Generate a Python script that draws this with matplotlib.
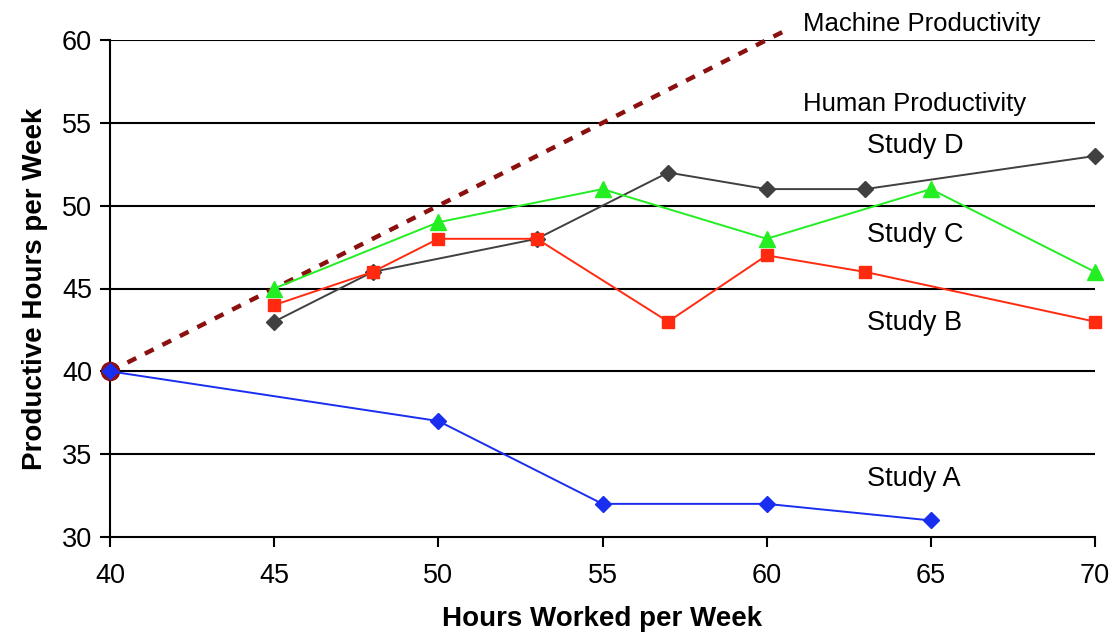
import matplotlib.pyplot as plt
from matplotlib import font_manager

# fonts: narrow face if available
names = {f.name for f in font_manager.fontManager.ttflist}
narrow = "Liberation Sans Narrow" if "Liberation Sans Narrow" in names else "Liberation Sans"
plt.rcParams['font.family'] = [narrow, 'DejaVu Sans']

# data
machine_x = [40, 60.6]
machine_y = [40, 60.6]

study_a_x = [40, 50, 55, 60, 65]
study_a_y = [40, 37, 32, 32, 31]

study_b_x = [45, 48, 50, 53, 57, 60, 63, 70]
study_b_y = [44, 46, 48, 48, 43, 47, 46, 43]

study_c_x = [45, 50, 55, 60, 65, 70]
study_c_y = [45, 49, 51, 48, 51, 46]

study_d_x = [45, 48, 53, 57, 60, 63, 70]
study_d_y = [43, 46, 48, 52, 51, 51, 53]

x_ticks = [40, 45, 50, 55, 60, 65, 70]
y_ticks = [30, 35, 40, 45, 50, 55, 60]

# (text, x, y, size)
labels = [
    ("Machine Productivity", 61.1, 60.95, 18.5),
    ("Human Productivity", 61.1, 56.15, 18.5),
    ("Study D", 63.05, 53.6, 19.5),
    ("Study C", 63.05, 48.2, 19.5),
    ("Study B", 63.05, 42.9, 19.5),
    ("Study A", 63.05, 33.5, 19.5),
]

fig = plt.figure(figsize=(11.12, 6.41), dpi=100)
ax = fig.add_axes([110 / 1112, 1 - 537 / 641, 985 / 1112, 497 / 641])

ax.set_xlim(40, 70)
ax.set_ylim(30, 60)

# horizontal rules
for y in y_ticks[1:]:
    ax.axhline(y, color='black', lw=1.5, zorder=1)

ax.plot(machine_x, machine_y, color='#8b1010', lw=3.2, dashes=(2.2, 2.2),
        clip_on=False, zorder=2)
ax.plot([machine_x[0]], [machine_y[0]], 'o', color='#8b1010', ms=13,
        clip_on=False, zorder=3)

ax.plot(study_d_x, study_d_y, color='#404040', lw=1.4, marker='D', ms=8,
        clip_on=False, zorder=4)
ax.plot(study_b_x, study_b_y, color='#ff2a10', lw=1.4, marker='s', ms=9,
        clip_on=False, zorder=5)
ax.plot(study_c_x, study_c_y, color='#22ee22', lw=1.4, marker='^', ms=11,
        clip_on=False, zorder=6)
ax.plot(study_a_x, study_a_y, color='#1a2ef0', lw=1.4, marker='D', ms=8,
        clip_on=False, zorder=7)

for text, x, y, size in labels:
    ax.text(x, y, text, fontsize=size, va='center', ha='left', clip_on=False)

ax.spines['top'].set_visible(False)
ax.spines['right'].set_visible(False)
ax.spines['left'].set_linewidth(1.5)
ax.spines['bottom'].set_linewidth(1.5)

ax.set_xticks(x_ticks)
ax.set_yticks(y_ticks)
ax.tick_params(axis='both', direction='out', length=7, width=1.5,
               labelsize=19.5, colors='black')
ax.tick_params(axis='x', pad=12)
ax.tick_params(axis='y', pad=6)

ax.set_xlabel("Hours Worked per Week", fontsize=20, fontweight='bold', labelpad=12)
ax.set_ylabel("Productive Hours per Week", fontsize=20, fontweight='bold', labelpad=10)

fig.savefig("out.png", dpi=100)
